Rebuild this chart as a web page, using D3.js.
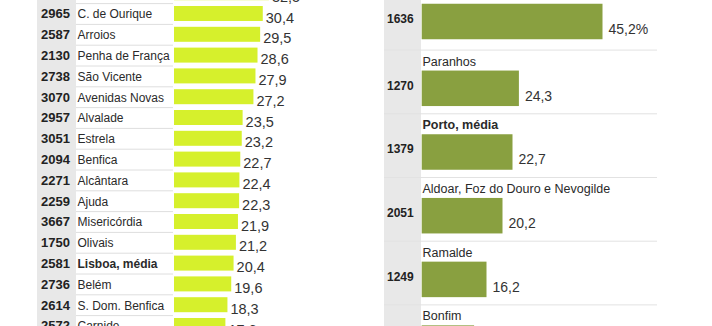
<!DOCTYPE html>
<html>
<head>
<meta charset="utf-8">
<script src="https://cdn.jsdelivr.net/npm/d3@7"></script>
<style>
  html, body { margin: 0; padding: 0; background: #fff; }
  svg { display: block; font-family: "Liberation Sans", Arial, sans-serif; }
</style>
</head>
<body>
<svg id="chart" width="712" height="326"></svg>
<script>
// Lisboa: freguesias, número de casos e percentagem
const lisbonParishes = ["Santo António", "C. de Ourique", "Arroios", "Penha de França", "São Vicente",
  "Avenidas Novas", "Alvalade", "Estrela", "Benfica", "Alcântara", "Ajuda", "Misericórdia",
  "Olivais", "Lisboa, média", "Belém", "S. Dom. Benfica", "Carnide"];
const lisbonCounts = [3317, 2965, 2587, 2130, 2738, 3070, 2957, 3051, 2094, 2271, 2259, 3667,
  1750, 2581, 2736, 2614, 2572];
const lisbonShares = [32.5, 30.4, 29.5, 28.6, 27.9, 27.2, 23.5, 23.2, 22.7, 22.4, 22.3, 21.9,
  21.2, 20.4, 19.6, 18.3, 17.6];
const lisbonAverage = "Lisboa, média";

// Porto: freguesias, número de casos e percentagem
const portoParishes = ["Centro Histórico", "Paranhos", "Porto, média",
  "Aldoar, Foz do Douro e Nevogilde", "Ramalde", "Bonfim"];
const portoCounts = [1636, 1270, 1379, 2051, 1249, 1417];
const portoShares = [45.2, 24.3, 22.7, 20.2, 16.2, 13.1];
const portoAverage = "Porto, média";

const fmt = v => d3.format(".1f")(v).replace(".", ",");

const svg = d3.select("#chart");

// ---------- Lisboa ----------
(function () {
  const g = svg.append("g");
  const rowStep = 20.8;
  const n = lisbonParishes.length;
  const y = d3.scaleBand().domain(d3.range(n))
    .range([-17.7, -17.7 + n * rowStep]).paddingInner(0).paddingOuter(0);
  const barX0 = 174;
  const x = d3.scaleLinear().domain([0, 50]).range([barX0, barX0 + 146]);
  const barH = 15;

  // grey column behind the counts
  g.append("rect").attr("x", 37).attr("y", 0).attr("width", 39).attr("height", 326)
    .attr("fill", "#e8e8e8");

  const rows = g.selectAll("g.row").data(d3.range(n)).join("g").attr("class", "row");

  rows.append("line")
    .attr("x1", 76).attr("x2", 173)
    .attr("y1", i => y(i) + rowStep + 0.5).attr("y2", i => y(i) + rowStep + 0.5)
    .attr("stroke", "#dedede").attr("stroke-width", 1);

  rows.append("text")
    .attr("x", 41).attr("y", i => y(i) + rowStep / 2 + 4.8)
    .attr("font-size", 13).attr("font-weight", 700).attr("fill", "#222")
    .text(i => lisbonCounts[i]);

  rows.append("text")
    .attr("x", 77.5).attr("y", i => y(i) + rowStep / 2 + 4.8)
    .attr("font-size", 12).attr("fill", "#2a2a2a")
    .attr("font-weight", i => lisbonParishes[i] === lisbonAverage ? 700 : 400)
    .text(i => lisbonParishes[i]);

  rows.append("rect")
    .attr("x", x(0)).attr("y", i => y(i) + rowStep / 2 - barH / 2)
    .attr("width", i => x(lisbonShares[i]) - x(0)).attr("height", barH)
    .attr("fill", "#d6f02c");

  rows.append("text")
    .attr("x", i => x(lisbonShares[i]) + 3)
    .attr("y", i => y(i) + rowStep / 2 + barH / 2 + 1.5)
    .attr("font-size", 14.5).attr("fill", "#333")
    .text(i => fmt(lisbonShares[i]));
})();

// ---------- Porto ----------
(function () {
  const g = svg.append("g");
  const n = portoParishes.length;
  // the first block is a little taller than the others
  const rowHeights = d3.range(n).map(i => i === 0 ? 66.8 : 63.7);
  const rowTops = rowHeights.map((h, i) => -17.2 + d3.sum(rowHeights.slice(0, i)));
  const barX0 = 421.7;
  const x = d3.scaleLinear().domain([0, 50]).range([barX0, barX0 + 200]);
  const barH = 35.5;
  const barOffset = 38.7; // bar centre below the row's top rule

  g.append("rect").attr("x", 384).attr("y", 0).attr("width", 37).attr("height", 326)
    .attr("fill", "#e8e8e8");

  const rows = g.selectAll("g.row").data(d3.range(n)).join("g").attr("class", "row");

  rows.append("line")
    .attr("x1", 384).attr("x2", 657)
    .attr("y1", i => rowTops[i] + 0.5).attr("y2", i => rowTops[i] + 0.5)
    .attr("stroke", "#e2e2e2").attr("stroke-width", 1);

  rows.append("text")
    .attr("x", 387).attr("y", i => rowTops[i] + barOffset + 1.2)
    .attr("font-size", 12).attr("font-weight", 700).attr("fill", "#222")
    .text(i => portoCounts[i]);

  rows.append("text")
    .attr("x", 422.5).attr("y", i => rowTops[i] + barOffset - barH / 2 - 5)
    .attr("font-size", 12.5).attr("fill", "#2a2a2a")
    .attr("font-weight", i => portoParishes[i] === portoAverage ? 700 : 400)
    .text(i => portoParishes[i]);

  rows.append("rect")
    .attr("x", x(0)).attr("y", i => rowTops[i] + barOffset - barH / 2)
    .attr("width", i => x(portoShares[i]) - x(0)).attr("height", barH)
    .attr("fill", "#89a040");

  rows.append("text")
    .attr("x", i => x(portoShares[i]) + 6)
    .attr("y", i => rowTops[i] + barOffset + barH / 2 - 5.5)
    .attr("font-size", 14).attr("fill", "#333")
    .text(i => fmt(portoShares[i]) + (i === 0 ? "%" : ""));
})();
</script>
</body>
</html>
